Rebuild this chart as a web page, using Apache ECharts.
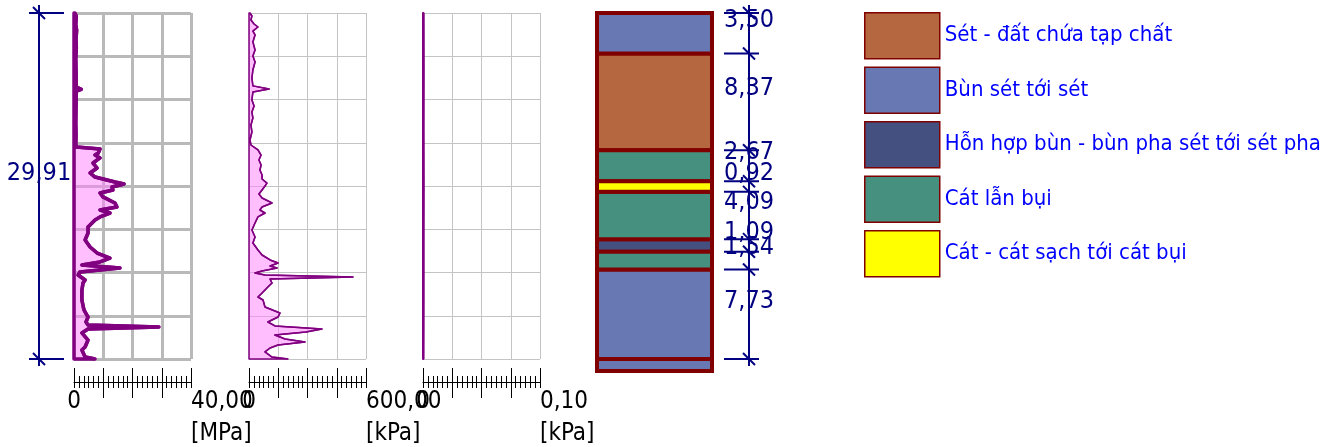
<!DOCTYPE html>
<html><head><meta charset="utf-8">
<script src="https://cdn.jsdelivr.net/npm/echarts@6/dist/echarts.min.js"></script>
<style>html,body{margin:0;padding:0;background:#fff}#c{width:1338px;height:447px}</style>
</head><body><div id="c"></div><script>
const FONT = "'DejaVu Sans Condensed','DejaVu Sans',sans-serif";

// Panel 1: cone resistance qc [MPa] against depth [m]
const qcDepth = [0,0.3,1.0,1.5,2.2,3.0,4.0,5.0,6.4,6.6,6.75,8.0,9.5,10.5,11.4,11.58,11.75,12.1,12.28,12.53,12.97,13.4,13.83,14.18,14.61,14.78,15.04,15.3,15.56,15.9,16.42,16.77,17.03,17.29,17.63,17.89,18.5,19.02,19.62,20.23,20.75,21.18,21.52,21.78,22.04,22.39,22.65,23.08,23.34,23.95,24.81,25.67,26.28,26.71,26.97,27.14,27.31,27.66,28.27,28.87,29.13,29.74,29.91];
const qcValue = [0.3,0.8,0.6,0.9,0.7,0.8,0.6,0.7,0.8,2.5,0.8,0.7,0.6,0.7,0.6,0.9,8.9,8.3,7.2,8.9,6.5,7.9,5.5,7.2,14.0,17.1,13.0,13.3,8.9,9.9,14.0,14.7,8.9,12.3,8.9,7.2,4.8,4.8,3.8,5.5,7.9,12.3,8.9,2.7,15.7,2.0,1.4,3.8,3.1,2.7,2.7,3.4,4.8,4.1,4.8,29.0,4.8,2.7,4.8,3.8,2.7,3.8,7.2];

// Panel 2: sleeve friction fs [kPa]
const fsDepth = [0,0.26,0.6,0.95,1.21,1.56,1.9,2.5,3.2,3.72,4.24,4.93,5.62,6.3,6.57,6.83,7.52,8.04,8.56,9.08,9.68,10.29,10.98,11.41,11.84,12.28,12.71,13.14,13.57,14.0,14.35,14.7,14.96,15.3,15.65,15.99,16.42,16.77,17.03,17.29,17.63,18.15,18.76,19.36,19.88,20.49,20.92,21.35,21.61,21.87,22.04,22.3,22.48,22.65,22.82,23.0,23.34,23.68,24.2,24.55,24.81,25.42,25.93,26.28,26.71,27.05,27.31,27.57,27.84,28.18,28.44,28.7,28.96,29.3,29.74,29.91];
const fsValue = [5,15,10,26,46,20,31,20,31,20,31,20,15,20,103,20,15,26,15,20,10,15,5,10,46,62,51,62,56,67,67,92,82,67,51,67,118,67,56,82,46,31,15,31,20,46,67,108,149,108,144,67,31,82,533,108,118,97,67,46,72,82,159,149,97,133,374,292,133,185,287,149,108,82,118,200];

// Panel 3: pore pressure [kPa]
const uDepth = [0, 5, 10, 15, 20, 25, 29.91];
const uValue = [0.0004, 0.0005, 0.0004, 0.0005, 0.0004, 0.0004, 0.0003];

const panelDepth = [qcDepth, fsDepth, uDepth];
const panelValue = [qcValue, fsValue, uValue];
const panelMax = [40, 600, 0.10];
const panelMaxLabel = ['40,00', '600,00', '0,10'];
const panelUnit = ['[MPa]', '[kPa]', '[kPa]'];
const panelLineWidth = [3.5, 1.5, 2];

// Soil profile
const soilNames = ['Sét - đất chứa tạp chất', 'Bùn sét tới sét', 'Hỗn hợp bùn - bùn pha sét tới sét pha', 'Cát lẫn bụi', 'Cát - cát sạch tới cát bụi'];
const soilColors = ['#b5673f', '#6778b2', '#44507f', '#469080', '#ffff00'];
const layerThickness = [3.50, 8.37, 2.67, 0.92, 4.09, 1.09, 1.54, 7.73, 1.04];
const layerSoil = [1, 0, 3, 4, 3, 2, 3, 1, 1];
const dimensionedLayers = 8;
const totalDepth = 29.91;

// ---------- layout ----------
const panelLeft = [74, 249, 423];
const PW = 117, TOP = 13, PH = 346;
const pxPerM = PH / totalDepth;
const layerTop = [];
let acc = 0;
layerThickness.forEach(t => { layerTop.push(acc); acc += t; });
const soilMax = acc;
const fmt = v => v.toFixed(2).replace('.', ',');

const grid = panelLeft.map(l => ({left: l, top: TOP, width: PW, height: PH, outerBoundsMode: 'none', containLabel: false}));
grid.push({left: 597, top: TOP, width: 115, height: soilMax * pxPerM, outerBoundsMode: 'none', containLabel: false});

const xAxis = [], yAxis = [], series = [];
panelLeft.forEach((l, i) => {
  const M = panelMax[i];
  const sl = i === 0 ? {color: '#b9b9b9', width: 3} : {color: '#c4c4c4', width: 1};
  xAxis.push({gridIndex: i, type: 'value', min: 0, max: M, interval: M / 4, position: 'top',
    axisLine: {show: false}, axisTick: {show: false}, axisLabel: {show: false},
    splitLine: {show: true, lineStyle: sl}});
  xAxis.push({gridIndex: i, type: 'value', min: 0, max: M, interval: M / 4, position: 'bottom', offset: 23,
    axisLine: {show: true, lineStyle: {color: '#000', width: 1}},
    axisTick: {show: true, inside: true, length: 14, lineStyle: {color: '#000'}},
    minorTick: {show: true, splitNumber: 6, length: 6, lineStyle: {color: '#000'}},
    axisLabel: {show: false}, splitLine: {show: false}});
  xAxis.push({gridIndex: i, type: 'value', min: 0, max: M, interval: M / 4, position: 'bottom', offset: 23,
    axisLine: {show: false},
    axisTick: {show: true, inside: false, length: 6, lineStyle: {color: '#000'}},
    minorTick: {show: true, splitNumber: 6, length: 6, lineStyle: {color: '#000'}},
    splitLine: {show: false},
    axisLabel: {show: true, margin: 4, fontSize: 24, lineHeight: 32, fontFamily: FONT, color: '#000',
      alignMinLabel: 'center', alignMaxLabel: 'left', showMinLabel: true, showMaxLabel: true,
      formatter: v => v === 0 ? '0' : (Math.abs(v - M) < 1e-9 ? panelMaxLabel[i] + '\n' + panelUnit[i] : '')}});
  xAxis.push({gridIndex: i, type: 'value', min: 0, max: M, interval: M / 4, position: 'bottom', offset: 23,
    axisLine: {show: false},
    axisTick: {show: true, inside: false, length: 16, customValues: [M / 4, M / 2, 3 * M / 4], lineStyle: {color: '#000'}},
    axisLabel: {show: false}, splitLine: {show: false}});
  yAxis.push({gridIndex: i, type: 'value', min: 0, max: totalDepth, interval: totalDepth / 8, inverse: true,
    axisLine: {show: false}, axisTick: {show: false}, axisLabel: {show: false},
    splitLine: {show: true, lineStyle: sl}});

  const D = panelDepth[i], V = panelValue[i];
  series.push({type: 'custom', xAxisIndex: 4 * i, yAxisIndex: i, data: [[0, 0]], z: 2, silent: true,
    renderItem: (params, api) => {
      const pts = [api.coord([0, D[0]])];
      D.forEach((d, k) => pts.push(api.coord([V[k], d])));
      pts.push(api.coord([0, D[D.length - 1]]));
      return {type: 'polygon', shape: {points: pts},
        style: {fill: 'rgba(255,128,255,0.5)', stroke: '#800080', lineWidth: panelLineWidth[i], lineJoin: 'round'}};
    }});
  series.push({type: 'line', xAxisIndex: 4 * i, yAxisIndex: i, z: 3, showSymbol: false, silent: true,
    data: D.map((d, k) => [V[k], d]),
    lineStyle: {color: '#800080', width: panelLineWidth[i], join: 'round'}});
});

// soil column axes
xAxis.push({gridIndex: 3, type: 'value', min: 0, max: 1, show: false});
yAxis.push({gridIndex: 3, type: 'value', min: 0, max: soilMax, inverse: true, show: false});
const SX = 12, SY = 3;

soilNames.forEach((name, s) => {
  const data = [];
  layerSoil.forEach((t, k) => { if (t === s) data.push([layerTop[k], layerTop[k] + layerThickness[k]]); });
  series.push({type: 'custom', name, xAxisIndex: SX, yAxisIndex: SY, data, silent: true, z: 2,
    itemStyle: {color: soilColors[s]},
    encode: {x: -1, y: [0, 1]},
    renderItem: (params, api) => {
      const p0 = api.coord([0, api.value(0)]);
      const p1 = api.coord([1, api.value(1)]);
      return {type: 'rect', shape: {x: p0[0], y: p0[1], width: p1[0] - p0[0], height: p1[1] - p0[1]},
        style: {fill: soilColors[s], stroke: '#800000', lineWidth: 4}};
    }});
});

// dimension lines (dir = side on which the long part of each tick lies: -1 left, +1 right)
function dimGroup(api, x, dir, bounds, labels) {
  const ch = [];
  const ys = bounds.map(b => api.coord([0, b])[1]);
  const NAVY = '#000080';
  ch.push({type: 'line', shape: {x1: x, y1: ys[0] - 8, x2: x, y2: ys[ys.length - 1] + 7}, style: {stroke: NAVY, lineWidth: 2}});
  ys.forEach(y => {
    ch.push({type: 'line', shape: {x1: x + dir * 25, y1: y, x2: x - dir * 10, y2: y}, style: {stroke: NAVY, lineWidth: 2}});
    ch.push({type: 'line', shape: {x1: x - 6, y1: y - 6, x2: x + 6, y2: y + 6}, style: {stroke: NAVY, lineWidth: 2}});
  });
  labels.forEach((t, k) => {
    const mid = (ys[k] + ys[k + 1]) / 2;
    ch.push({type: 'text', style: {text: t, x: x, y: mid - 13, align: 'center', verticalAlign: 'middle',
      fill: NAVY, fontSize: 25, fontFamily: FONT}});
  });
  return {type: 'group', children: ch};
}
const dimBounds = layerTop.slice(0, dimensionedLayers).concat([layerTop[dimensionedLayers]]);
const dimLabels = layerThickness.slice(0, dimensionedLayers).map(fmt);
series.push({type: 'custom', xAxisIndex: SX, yAxisIndex: SY, data: [[0, 0]], silent: true, z: 5,
  renderItem: (params, api) => dimGroup(api, api.coord([1, 0])[0] + 37, -1, dimBounds, dimLabels)});
series.push({type: 'custom', xAxisIndex: 0, yAxisIndex: 0, data: [[0, 0]], silent: true, z: 5,
  renderItem: (params, api) => dimGroup(api, api.coord([0, 0])[0] - 35, 1, [0, totalDepth], [fmt(totalDepth)])});

const chart = echarts.init(document.getElementById('c'), null, {renderer: 'canvas'});
chart.setOption({
  animation: false,
  backgroundColor: '#ffffff',
  grid, xAxis, yAxis, series,
  legend: {data: soilNames, orient: 'vertical', left: 864, top: 12, itemWidth: 75, itemHeight: 46, itemGap: 7,
    icon: 'rect', selectedMode: false, padding: 0,
    itemStyle: {borderColor: '#800000', borderWidth: 1.5},
    textStyle: {color: '#0000ff', fontSize: 22, fontFamily: FONT, padding: [6, 0, 0, 0]}}
});
</script></body></html>
